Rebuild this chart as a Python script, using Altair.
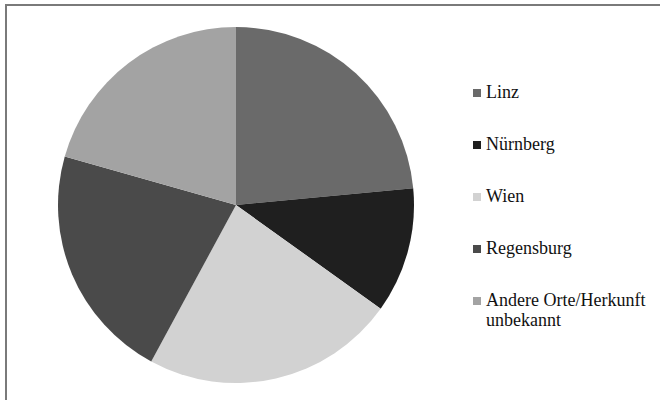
import altair as alt
import pandas as pd

categories = ["Linz", "Nürnberg", "Wien", "Regensburg", "Andere Orte/Herkunft unbekannt"]
shares = [23.5, 11.4, 23.0, 21.5, 20.6]
colors = ["#6a6a6a", "#1f1f1f", "#d2d2d2", "#4a4a4a", "#a3a3a3"]

df = pd.DataFrame({"Ort": categories, "Anteil": shares, "order": list(range(len(categories)))})

label_expr = (
    "datum.label == 'Andere Orte/Herkunft unbekannt' ? "
    "['Andere Orte/Herkunft', 'unbekannt'] : datum.label"
)

pie = alt.Chart(df).mark_arc(radius=178).encode(
    theta=alt.Theta("Anteil:Q", stack=True),
    order=alt.Order("order:Q"),
    color=alt.Color(
        "Ort:N",
        scale=alt.Scale(domain=categories, range=colors),
        sort=categories,
        legend=alt.Legend(
            title=None,
            orient="none",
            legendX=468,
            legendY=84,
            symbolType="square",
            symbolSize=64,
            symbolStrokeWidth=0,
            labelFont="Liberation Serif",
            labelFontSize=18,
            labelColor="#111111",
            labelOffset=0,
            labelLimit=300,
            rowPadding=34,
            padding=0,
            labelExpr=label_expr,
        ),
    ),
    x=alt.value(236),
    y=alt.value(205),
)

frame = pd.DataFrame({"a": [0]})
top_line = alt.Chart(frame).mark_rule(color="#7a7a7a", strokeWidth=2).encode(
    x=alt.value(5), x2=alt.value(660), y=alt.value(5)
)
left_line = alt.Chart(frame).mark_rule(color="#7a7a7a", strokeWidth=2).encode(
    x=alt.value(6), y=alt.value(5), y2=alt.value(400)
)

chart = alt.layer(pie, top_line, left_line).properties(
    width=660, height=400, padding=0, autosize=alt.AutoSizeParams(type="none"),
    background="white",
).configure_view(stroke=None)

chart.save("out.html", embed_options={"renderer": "svg", "actions": False})
